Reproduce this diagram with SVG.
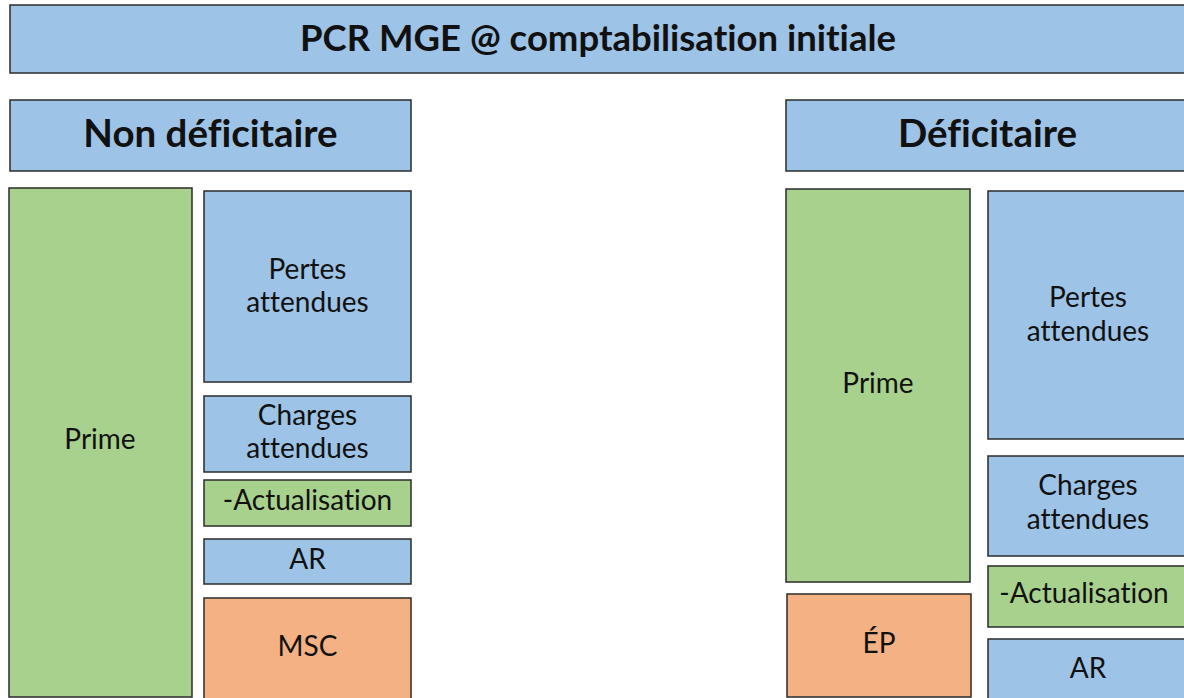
<svg xmlns="http://www.w3.org/2000/svg" width="1184" height="698" viewBox="0 0 1184 698">
<style>
.b{fill:#9DC3E6;stroke:#2b2b2b;stroke-width:1.5}
.g{fill:#A9D18E;stroke:#2b2b2b;stroke-width:1.5}
.o{fill:#F4B183;stroke:#2b2b2b;stroke-width:1.5}
text{font-family:Lato,"Liberation Sans",sans-serif;fill:#111;text-anchor:middle;font-variant-ligatures:none}
.t{font-size:36.5px;font-weight:bold}
.h{font-size:38.5px;font-weight:bold}
.n{font-size:28px}
</style>
<rect width="1184" height="698" fill="#fff"/>
<g id="title"><rect class="b" x="10" y="5" width="1180" height="68"/><text class="t" x="598" y="51">PCR MGE @ comptabilisation initiale</text></g>
<g id="hdr-left"><rect class="b" x="10" y="100" width="401" height="71"/><text class="h" x="210.5" y="147">Non déficitaire</text></g>
<g id="hdr-right"><rect class="b" x="786" y="100" width="410" height="71"/><text class="h" x="987.5" y="147">Déficitaire</text></g>
<g id="l-prime"><rect class="g" x="9" y="188" width="183" height="509"/><text class="n" x="100" y="449">Prime</text></g>
<g id="l-pertes"><rect class="b" x="204" y="191" width="207" height="191"/><text class="n" x="307.5" y="279">Pertes</text><text class="n" x="307.5" y="312">attendues</text></g>
<g id="l-charges"><rect class="b" x="204" y="396" width="207" height="76"/><text class="n" x="307.5" y="425">Charges</text><text class="n" x="307.5" y="458">attendues</text></g>
<g id="l-actu"><rect class="g" x="204" y="480" width="207" height="46"/><text class="n" x="307.5" y="510">-Actualisation</text></g>
<g id="l-ar"><rect class="b" x="204" y="539" width="207" height="45"/><text class="n" x="307.5" y="569">AR</text></g>
<g id="l-msc"><rect class="o" x="204" y="598" width="207" height="110"/><text class="n" x="307.5" y="656">MSC</text></g>
<g id="r-prime"><rect class="g" x="786" y="189" width="184" height="393"/><text class="n" x="878" y="393">Prime</text></g>
<g id="r-ep"><rect class="o" x="787" y="594" width="184" height="103"/><text class="n" x="879" y="653">ÉP</text></g>
<g id="r-pertes"><rect class="b" x="988" y="191" width="210" height="248"/><text class="n" x="1088" y="307">Pertes</text><text class="n" x="1088" y="341">attendues</text></g>
<g id="r-charges"><rect class="b" x="988" y="456" width="210" height="100"/><text class="n" x="1088" y="495">Charges</text><text class="n" x="1088" y="529">attendues</text></g>
<g id="r-actu"><rect class="g" x="988" y="566" width="210" height="61"/><text class="n" x="1084" y="603">-Actualisation</text></g>
<g id="r-ar"><rect class="b" x="988" y="639" width="210" height="70"/><text class="n" x="1088" y="678">AR</text></g>
<g id="connectors"/>
</svg>
